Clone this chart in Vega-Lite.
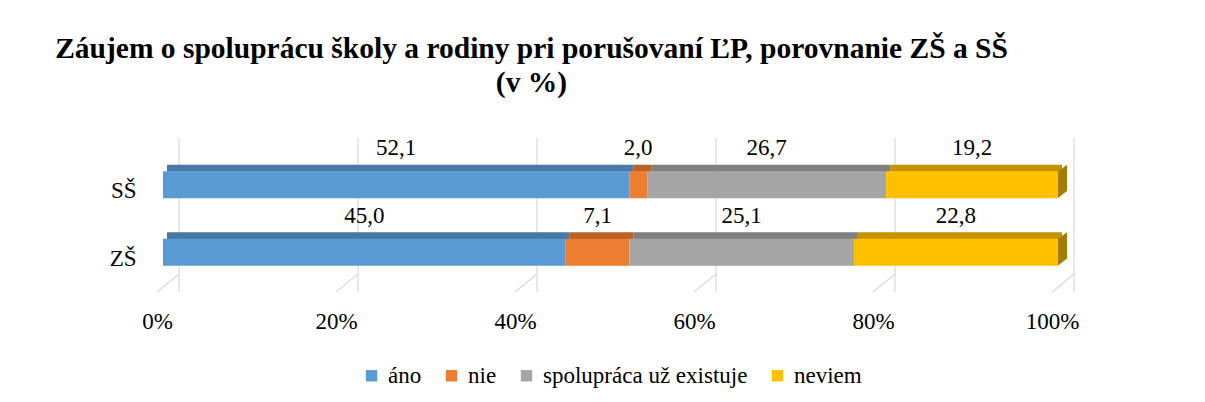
{
  "$schema": "https://vega.github.io/schema/vega-lite/v6.json",
  "width": 895,
  "height": 154,
  "autosize": {"type": "none"},
  "padding": {"left": 163, "top": 138, "right": 147, "bottom": 110},
  "background": "white",
  "datasets": {
    "odpovede": [
      {"skupina": "SŠ", "odpoved": "áno", "hodnota": 52.1, "poradie": 1},
      {"skupina": "SŠ", "odpoved": "nie", "hodnota": 2.0, "poradie": 2},
      {"skupina": "SŠ", "odpoved": "spolupráca už existuje", "hodnota": 26.7, "poradie": 3},
      {"skupina": "SŠ", "odpoved": "neviem", "hodnota": 19.2, "poradie": 4},
      {"skupina": "ZŠ", "odpoved": "áno", "hodnota": 45.0, "poradie": 1},
      {"skupina": "ZŠ", "odpoved": "nie", "hodnota": 7.1, "poradie": 2},
      {"skupina": "ZŠ", "odpoved": "spolupráca už existuje", "hodnota": 25.1, "poradie": 3},
      {"skupina": "ZŠ", "odpoved": "neviem", "hodnota": 22.8, "poradie": 4}
    ],
    "mriezka": [
      {"p": 0}, {"p": 20}, {"p": 40}, {"p": 60}, {"p": 80}, {"p": 100}
    ]
  },
  "title": {
    "text": ["Záujem o spoluprácu školy a rodiny pri porušovaní ĽP, porovnanie ZŠ a SŠ", "(v %)"],
    "font": "Liberation Serif",
    "fontSize": 29.5,
    "fontWeight": "bold",
    "color": "black",
    "lineHeight": 34,
    "anchor": "middle",
    "dx": -79,
    "offset": 39
  },
  "config": {
    "locale": {"number": {"decimal": ",", "thousands": " ", "grouping": [3], "currency": ["", " €"]}},
    "view": {"stroke": null},
    "legend": {"layout": {"bottom": {"anchor": "middle"}}}
  },
  "layer": [
    {
      "data": {"name": "mriezka"},
      "mark": {"type": "rule", "color": "#d9d9d9", "strokeWidth": 1.2, "xOffset": 16, "y2Offset": -18},
      "encoding": {
        "x": {"field": "p", "type": "quantitative", "scale": {"domain": [0, 100], "nice": false}, "title": null,
              "axis": {"values": [0, 20, 40, 60, 80, 100], "domain": false, "ticks": false, "grid": false,
                       "labelFlush": false, "labelExpr": "datum.value + '%'", "labelOffset": -6, "labelPadding": 18,
                       "labelFont": "Liberation Serif", "labelFontSize": 23, "labelColor": "black"}}
      }
    },
    {
      "data": {"name": "mriezka"},
      "mark": {"type": "rule", "color": "#d9d9d9", "strokeWidth": 1.2, "xOffset": 16, "x2Offset": -6, "yOffset": -18},
      "encoding": {
        "x": {"field": "p", "type": "quantitative"},
        "x2": {"field": "p"},
        "y": {"value": {"expr": "height"}},
        "y2": {"value": {"expr": "height"}}
      }
    },
    {
      "data": {"name": "odpovede"},
      "mark": {"type": "bar", "height": 7, "yOffset": -13, "xOffset": 4, "x2Offset": 4},
      "encoding": {
        "y": {"field": "skupina", "type": "nominal", "sort": ["SŠ", "ZŠ"], "title": null,
              "scale": {"paddingInner": 0, "paddingOuter": 0.14},
              "axis": {"domain": false, "ticks": false, "labelPadding": 27, "labelFont": "Liberation Serif",
                       "labelFontSize": 23, "labelColor": "black", "labelOffset": 10}},
        "x": {"field": "hodnota", "type": "quantitative", "stack": "zero"},
        "order": {"field": "poradie"},
        "color": {"field": "odpoved", "type": "nominal",
                  "scale": {"domain": ["áno", "nie", "spolupráca už existuje", "neviem"],
                            "range": ["#4A78A6", "#BA6126", "#808080", "#C49300"]},
                  "legend": null}
      }
    },
    {
      "data": {"name": "odpovede"},
      "mark": {"type": "bar", "height": 27, "yOffset": 3.5},
      "encoding": {
        "y": {"field": "skupina", "type": "nominal", "sort": ["SŠ", "ZŠ"]},
        "x": {"field": "hodnota", "type": "quantitative", "stack": "zero"},
        "order": {"field": "poradie"},
        "color": {"field": "odpoved", "type": "nominal",
                  "scale": {"domain": ["áno", "nie", "spolupráca už existuje", "neviem"],
                            "range": ["#5B9BD5", "#ED7D31", "#A5A5A5", "#FFC000"]},
                  "legend": {"orient": "bottom", "direction": "horizontal", "title": null, "symbolType": "square",
                             "symbolSize": 130, "symbolStrokeWidth": 0, "labelFont": "Liberation Serif",
                             "labelFontSize": 23, "labelColor": "black", "labelLimit": 400,
                             "columnPadding": 18, "labelOffset": 5, "offset": 31}}
      }
    },
    {
      "data": {"name": "odpovede"},
      "transform": [{"filter": "datum.odpoved == 'neviem'"}],
      "mark": {"type": "point", "filled": true, "opacity": 1, "size": 1600, "yOffset": 3.5,
               "color": "#A37D00", "strokeWidth": 0,
               "shape": "M0,0.665L0,-0.665L0.45,-1L0.45,0.315Z"},
      "encoding": {
        "x": {"datum": 100, "type": "quantitative"},
        "y": {"field": "skupina", "type": "nominal", "sort": ["SŠ", "ZŠ"]}
      }
    },
    {
      "data": {"name": "odpovede"},
      "mark": {"type": "text", "font": "Liberation Serif", "fontSize": 23, "color": "black",
               "baseline": "middle", "yOffset": -33},
      "encoding": {
        "y": {"field": "skupina", "type": "nominal", "sort": ["SŠ", "ZŠ"]},
        "x": {"field": "hodnota", "type": "quantitative", "stack": "zero", "bandPosition": 0.5},
        "order": {"field": "poradie"},
        "text": {"field": "hodnota", "type": "quantitative", "format": ".1f"}
      }
    }
  ],
  "resolve": {"scale": {"color": "independent"}}
}
